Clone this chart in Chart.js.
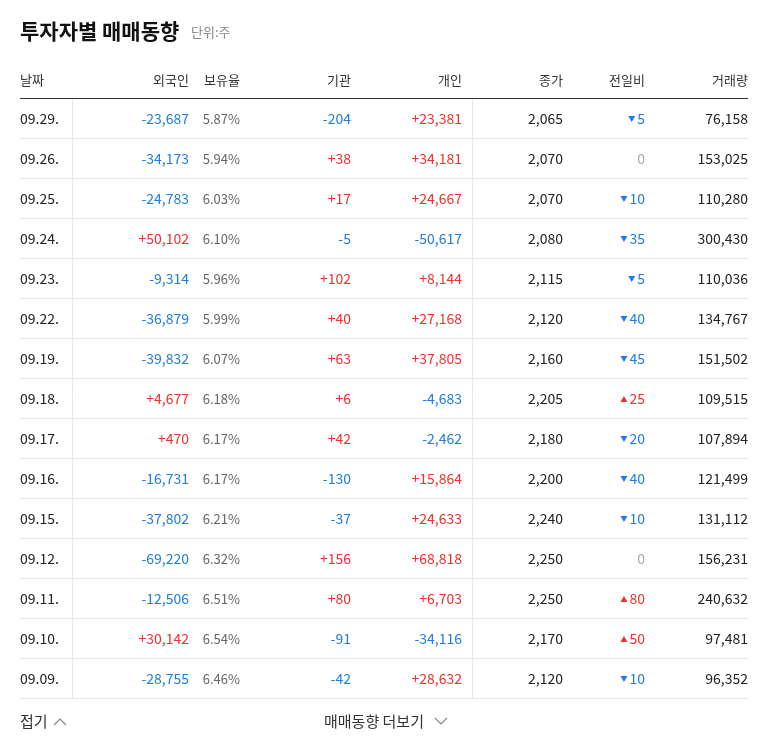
<!DOCTYPE html>
<html><head><meta charset="utf-8">
<script src="https://cdn.jsdelivr.net/npm/chart.js@4"></script>
<style>html,body{margin:0;padding:0;background:#fff;}#wrap{width:768px;height:749px;}</style>
</head><body><div id="wrap"><canvas id="c" width="768" height="749"></canvas></div>
<script>
const dates = ['09.29.','09.26.','09.25.','09.24.','09.23.','09.22.','09.19.','09.18.','09.17.','09.16.','09.15.','09.12.','09.11.','09.10.','09.09.'];
const foreign = [-23687,-34173,-24783,50102,-9314,-36879,-39832,4677,470,-16731,-37802,-69220,-12506,30142,-28755];
const holdRatio = ['5.87%','5.94%','6.03%','6.10%','5.96%','5.99%','6.07%','6.18%','6.17%','6.17%','6.21%','6.32%','6.51%','6.54%','6.46%'];
const inst = [-204,38,17,-5,102,40,63,6,42,-130,-37,156,80,-91,-42];
const indiv = [23381,34181,24667,-50617,8144,27168,37805,-4683,-2462,15864,24633,68818,6703,-34116,28632];
const closePrice = [2065,2070,2070,2080,2115,2120,2160,2205,2180,2200,2240,2250,2250,2170,2120];
const change = [-5,0,-10,-35,-5,-40,-45,25,-20,-40,-10,0,80,50,-10];
const volume = [76158,153025,110280,300430,110036,134767,151502,109515,107894,121499,131112,156231,240632,97481,96352];
const headers = ['날짜','외국인','보유율','기관','개인','종가','전일비','거래량'];

const RED='#f0302a', BLUE='#1a7ee6', DARK='#222', GRAY='#666';
const FONT='"Noto Sans CJK KR", "Noto Sans", sans-serif';
const fmt = v => Math.abs(v).toLocaleString('en-US');
const signed = v => (v>0?'+':v<0?'-':'')+fmt(v);
const col = v => v>0?RED:v<0?BLUE:GRAY;

const tablePlugin = {
  id:'table',
  afterDraw(chart){
    const ctx=chart.ctx, y=chart.scales.y, a=chart.chartArea;
    ctx.save();
    ctx.fillStyle='#111'; ctx.font='bold 21px '+FONT; ctx.textBaseline='alphabetic'; ctx.textAlign='left';
    ctx.fillText('투자자별 매매동향',20,39);
    ctx.fillStyle='#888'; ctx.font='13px '+FONT; ctx.fillText('단위:주',191,37);
    const hx=[20,189,240,351,462,563,645,748];
    ctx.font='13px '+FONT; ctx.fillStyle='#333'; ctx.textBaseline='middle';
    headers.forEach((h,i)=>{ctx.textAlign=i==0?'left':'right'; ctx.fillText(h,hx[i],80);});
    ctx.strokeStyle='#333'; ctx.lineWidth=1;
    ctx.beginPath(); ctx.moveTo(20,a.top+0.5); ctx.lineTo(748,a.top+0.5); ctx.stroke();
    ctx.strokeStyle='#e8e8e8';
    const step = y.getPixelForValue(1)-y.getPixelForValue(0);
    for(let i=0;i<dates.length;i++){
      const yy=Math.round(y.getPixelForValue(i)+step/2)+0.5;
      ctx.beginPath(); ctx.moveTo(20,yy); ctx.lineTo(748,yy); ctx.stroke();
    }
    [72,472].forEach(x=>{ctx.beginPath(); ctx.moveTo(x+0.5,a.top+1); ctx.lineTo(x+0.5,a.bottom); ctx.stroke();});
    ctx.font='14px '+FONT;
    dates.forEach((d,i)=>{
      const yy=y.getPixelForValue(i)+1;
      ctx.textAlign='left'; ctx.fillStyle=DARK; ctx.fillText(d,20,yy);
      ctx.textAlign='right';
      ctx.fillStyle=col(foreign[i]); ctx.fillText(signed(foreign[i]),189,yy);
      ctx.fillStyle=GRAY; ctx.font='13px '+FONT; ctx.fillText(holdRatio[i],240,yy); ctx.font='14px '+FONT;
      ctx.fillStyle=col(inst[i]); ctx.fillText(signed(inst[i]),351,yy);
      ctx.fillStyle=col(indiv[i]); ctx.fillText(signed(indiv[i]),462,yy);
      ctx.fillStyle=DARK; ctx.fillText(fmt(closePrice[i]),563,yy);
      const c=change[i]; const t=fmt(c);
      ctx.fillStyle=c===0?'#aaa':col(c); ctx.fillText(t,645,yy);
      if(c!==0){
        const w=ctx.measureText(t).width; const ax=645-w-2-7;
        ctx.beginPath();
        if(c<0){ctx.moveTo(ax,yy-3);ctx.lineTo(ax+7,yy-3);ctx.lineTo(ax+3.5,yy+3);}
        else{ctx.moveTo(ax,yy+3);ctx.lineTo(ax+7,yy+3);ctx.lineTo(ax+3.5,yy-3);}
        ctx.closePath(); ctx.fill();
      }
      ctx.fillStyle=DARK; ctx.fillText(fmt(volume[i]),748,yy);
    });
    ctx.fillStyle='#333'; ctx.font='15px '+FONT; ctx.textAlign='left';
    ctx.fillText('접기',20,721);
    ctx.strokeStyle='#888'; ctx.lineWidth=1.2;
    ctx.beginPath(); ctx.moveTo(54,725); ctx.lineTo(60,719); ctx.lineTo(66,725); ctx.stroke();
    ctx.fillText('매매동향 더보기',324,721);
    ctx.beginPath(); ctx.moveTo(435,718); ctx.lineTo(441,724); ctx.lineTo(447,718); ctx.stroke();
    ctx.restore();
  }
};

new Chart(document.getElementById('c'),{
  type:'bar',
  data:{labels:dates,datasets:[{data:dates.map(()=>0),backgroundColor:'rgba(0,0,0,0)'}]},
  options:{
    indexAxis:'y',responsive:false,animation:false,devicePixelRatio:1,
    layout:{padding:{top:98,bottom:51,left:0,right:0}},
    plugins:{legend:{display:false},tooltip:{enabled:false}},
    scales:{x:{display:false,min:0,max:1},y:{display:false}}
  },
  plugins:[tablePlugin]
});
</script></body></html>
